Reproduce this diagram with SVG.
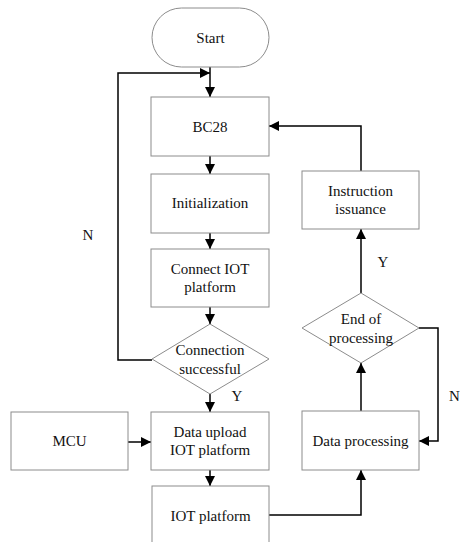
<svg xmlns="http://www.w3.org/2000/svg" width="460" height="542" viewBox="0 0 460 542">
<defs>
<marker id="arr" viewBox="0 0 10 10" refX="10" refY="5" markerWidth="10" markerHeight="10" markerUnits="userSpaceOnUse" orient="auto">
<path d="M0,0 L10,5 L0,10 z" fill="#000"/>
</marker>
<style>
.box{fill:#fff;stroke:#8c8c8c;stroke-width:1}
.t{font-size:15px;fill:#111;text-anchor:middle}
.c{fill:none;stroke:#000;stroke-width:1.5;marker-end:url(#arr)}
</style>
</defs>
<rect width="460" height="542" fill="#fff"/>
<g id="connectors">
<path class="c" d="M210,67 V97"/>
<path class="c" d="M152,360 H118 V73 H210"/>
<path class="c" d="M210,156 V174"/>
<path class="c" d="M210,233 V249"/>
<path class="c" d="M210,307 V324"/>
<path class="c" d="M210,394 V412"/>
<path class="c" d="M128,442 H151"/>
<path class="c" d="M210,470 V486"/>
<path class="c" d="M269,515 H361 V470"/>
<path class="c" d="M361,411 V363"/>
<path class="c" d="M419,328 H438 V441 H419"/>
<path class="c" d="M361,293 V229"/>
<path class="c" d="M361,171 V126 H269"/>
</g>
<g font-family="Liberation Serif, DejaVu Serif, serif">
<g id="start"><rect class="box" x="152" y="8" width="117" height="59" rx="29.5"/><text class="t" x="210.5" y="43">Start</text></g>
<g id="bc28"><rect class="box" x="151" y="97" width="118" height="59"/><text class="t" x="210" y="132">BC28</text></g>
<g id="init"><rect class="box" x="151" y="174" width="118" height="59"/><text class="t" x="210" y="208">Initialization</text></g>
<g id="connect"><rect class="box" x="151" y="249" width="118" height="58"/><text class="t" x="210" y="274">Connect IOT</text><text class="t" x="210" y="292">platform</text></g>
<g id="success"><polygon class="box" points="210,324 269,359 210,394 152,359"/><text class="t" x="210" y="355">Connection</text><text class="t" x="210" y="374">successful</text></g>
<g id="mcu"><rect class="box" x="11" y="412" width="117" height="58"/><text class="t" x="69.5" y="446">MCU</text></g>
<g id="upload"><rect class="box" x="151" y="412" width="118" height="58"/><text class="t" x="210" y="437">Data upload</text><text class="t" x="210" y="455">IOT platform</text></g>
<g id="iot"><rect class="box" x="152" y="486" width="117" height="70"/><text class="t" x="210.5" y="521">IOT platform</text></g>
<g id="process"><rect class="box" x="302" y="411" width="117" height="59"/><text class="t" x="360.5" y="446">Data processing</text></g>
<g id="end"><polygon class="box" points="361,293 419,328 361,363 302,328"/><text class="t" x="361" y="324">End of</text><text class="t" x="361" y="343">processing</text></g>
<g id="instr"><rect class="box" x="302" y="171" width="117" height="58"/><text class="t" x="360.5" y="196">Instruction</text><text class="t" x="360.5" y="214">issuance</text></g>
<g id="labels">
<text class="t" x="88" y="240">N</text>
<text class="t" x="237" y="401">Y</text>
<text class="t" x="383" y="267">Y</text>
<text class="t" x="449" y="401" style="text-anchor:start">N</text>
</g>
</g>
</svg>
